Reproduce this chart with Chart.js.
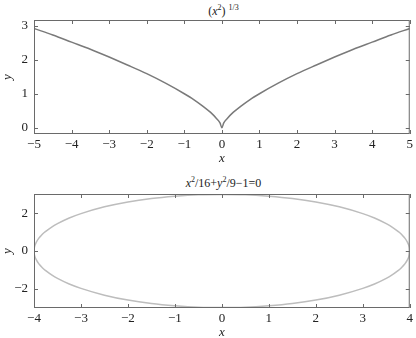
<!DOCTYPE html>
<html>
<head>
<meta charset="utf-8">
<script src="https://cdn.jsdelivr.net/npm/chart.js@4.4.0/dist/chart.umd.min.js"></script>
<style>
body { margin: 0; background: #fff; width: 416px; height: 338px; position: relative; overflow: hidden; font-family: "Liberation Serif", "Times New Roman", serif; }
.box { position: absolute; left: 0; width: 416px; }
.ttl { position: absolute; left: 34px; width: 379px; text-align: center; font-size: 12px; color: #222; line-height: 14px; }
.ttl sup { font-size: 8px; }
</style>
</head>
<body>
<div class="ttl" style="top:1px">(<i>x</i><sup>2</sup>) <sup>1/3</sup></div>
<div class="box" style="top:0;height:170px"><canvas id="c1"></canvas></div>
<div class="ttl" style="top:173px"><i>x</i><sup>2</sup>/16+<i>y</i><sup>2</sup>/9&minus;1=0</div>
<div class="box" style="top:170px;height:168px"><canvas id="c2"></canvas></div>
<script>
// top plot: (x^2)^(1/3)
var curveX = [-5, -4.5, -4, -3.5, -3, -2.5, -2, -1.5, -1, -0.75, -0.5, -0.3, -0.15, -0.05, 0,
              0.05, 0.15, 0.3, 0.5, 0.75, 1, 1.5, 2, 2.5, 3, 3.5, 4, 4.5, 5];
var curveY = [2.92, 2.73, 2.52, 2.31, 2.08, 1.84, 1.59, 1.31, 1.0, 0.83, 0.63, 0.45, 0.28, 0.14, 0,
              0.14, 0.28, 0.45, 0.63, 0.83, 1.0, 1.31, 1.59, 1.84, 2.08, 2.31, 2.52, 2.73, 2.92];
var xTicks1 = [-5, -4, -3, -2, -1, 0, 1, 2, 3, 4, 5];
var yTicks1 = [0, 1, 2, 3];

// bottom plot: x^2/16 + y^2/9 - 1 = 0
var ellipseX = [-4, -3.995, -3.99, -3.98, -3.95, -3.9, -3.85, -3.8, -3.75, -3.6, -3.5, -3.25, -3, -2.5, -2, -1.5, -1, -0.5, 0,
                0.5, 1, 1.5, 2, 2.5, 3, 3.25, 3.5, 3.6, 3.75, 3.8, 3.85, 3.9, 3.95, 3.98, 3.99, 3.995, 4];
var ellipseUpper = [0, 0.15, 0.21, 0.3, 0.47, 0.67, 0.81, 0.94, 1.04, 1.31, 1.45, 1.75, 1.98, 2.34, 2.6, 2.78, 2.9, 2.98, 3,
                    2.98, 2.9, 2.78, 2.6, 2.34, 1.98, 1.75, 1.45, 1.31, 1.04, 0.94, 0.81, 0.67, 0.47, 0.3, 0.21, 0.15, 0];
var ellipseLower = [0, -0.15, -0.21, -0.3, -0.47, -0.67, -0.81, -0.94, -1.04, -1.31, -1.45, -1.75, -1.98, -2.34, -2.6, -2.78, -2.9, -2.98, -3,
                    -2.98, -2.9, -2.78, -2.6, -2.34, -1.98, -1.75, -1.45, -1.31, -1.04, -0.94, -0.81, -0.67, -0.47, -0.3, -0.21, -0.15, 0];
var xTicks2 = [-4, -3, -2, -1, 0, 1, 2, 3, 4];
var yTicks2 = [-2, 0, 2];

function pts(xs, ys) {
  return xs.map(function (x, i) { return { x: x, y: ys[i] }; });
}

// box round the plot with ticks pointing inwards on all four sides
var frameTicks = {
  id: 'frameTicks',
  afterDraw: function (chart) {
    var c = chart.ctx, a = chart.chartArea, xs = chart.scales.x, ys = chart.scales.y;
    c.save();
    c.strokeStyle = '#6a6a6a';
    c.lineWidth = 1;
    c.strokeRect(a.left + 0.5, a.top + 0.5, a.right - a.left - 1, a.bottom - a.top - 1);
    c.beginPath();
    xs.ticks.forEach(function (t) {
      var px = Math.round(xs.getPixelForValue(t.value)) + 0.5;
      c.moveTo(px, a.bottom); c.lineTo(px, a.bottom - 4);
      c.moveTo(px, a.top); c.lineTo(px, a.top + 4);
    });
    ys.ticks.forEach(function (t) {
      var py = Math.round(ys.getPixelForValue(t.value)) + 0.5;
      c.moveTo(a.left, py); c.lineTo(a.left + 4, py);
      c.moveTo(a.right, py); c.lineTo(a.right - 4, py);
    });
    c.stroke();
    c.restore();
  }
};

var fam = '"Liberation Serif", "Times New Roman", serif';
var tickFont = { family: fam, size: 13 };
var labFont = { family: fam, size: 13, style: 'italic' };

function makeChart(id, datasets, xMin, xMax, yMin, yMax, xt, yt, padTop, xHeight, titlePad) {
  return new Chart(document.getElementById(id).getContext('2d'), {
    type: 'scatter',
    data: { datasets: datasets },
    options: {
      responsive: true,
      maintainAspectRatio: false,
      animation: false,
      layout: { padding: { top: padTop, right: 3, left: 0, bottom: 0 } },
      plugins: { legend: { display: false }, tooltip: { enabled: false } },
      scales: {
        x: {
          type: 'linear', min: xMin, max: xMax,
          afterBuildTicks: function (s) { s.ticks = xt.map(function (v) { return { value: v }; }); },
          afterFit: function (s) { s.height = xHeight; },
          grid: { display: false, drawTicks: false },
          border: { display: false },
          ticks: { font: tickFont, color: '#222', padding: 3, maxRotation: 0,
                   callback: function (v) { return String(v).replace('-', '\u2212'); } },
          title: { display: true, text: 'x', font: labFont, color: '#222', padding: { top: 0, bottom: titlePad } }
        },
        y: {
          type: 'linear', min: yMin, max: yMax,
          afterBuildTicks: function (s) { s.ticks = yt.map(function (v) { return { value: v }; }); },
          afterFit: function (s) { s.width = 34; },
          grid: { display: false, drawTicks: false },
          border: { display: false },
          ticks: { font: tickFont, color: '#222', padding: 6,
                   callback: function (v) { return String(v).replace('-', '\u2212'); } },
          title: { display: true, text: 'y', font: labFont, color: '#222', padding: { top: 0, bottom: 0 } }
        }
      }
    },
    plugins: [frameTicks]
  });
}

function build() {
  makeChart('c1', [{
    data: pts(curveX, curveY),
    showLine: true, pointRadius: 0, borderColor: '#7a7a7a', borderWidth: 1.5, cubicInterpolationMode: 'monotone'
  }], -5, 5, -0.185, 3.17, xTicks1, yTicks1, 20, 36, 4);

  makeChart('c2', [{
    data: pts(ellipseX, ellipseUpper),
    showLine: true, pointRadius: 0, borderColor: '#bdbdbd', borderWidth: 1.5, cubicInterpolationMode: 'monotone'
  }, {
    data: pts(ellipseX, ellipseLower),
    showLine: true, pointRadius: 0, borderColor: '#bdbdbd', borderWidth: 1.5, cubicInterpolationMode: 'monotone'
  }], -4, 4, -3.02, 3.02, xTicks2, yTicks2, 24, 30, -2);
}

Promise.all([
  document.fonts.load('13px "Liberation Serif"'),
  document.fonts.load('italic 13px "Liberation Serif"')
]).then(build, build);
</script>
</body>
</html>
